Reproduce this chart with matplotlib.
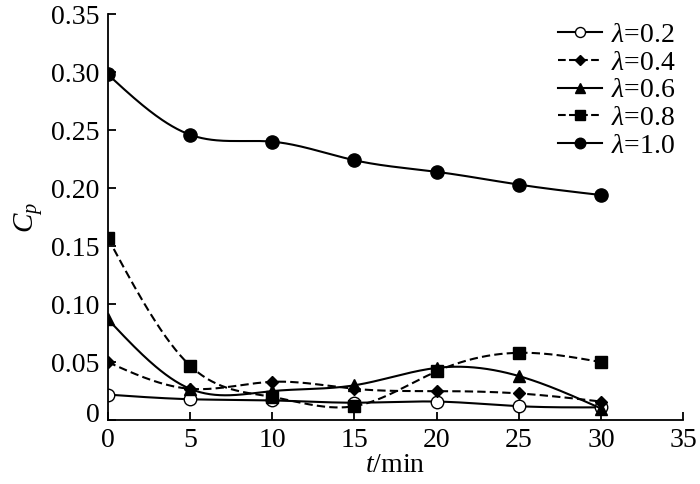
import numpy as np
import matplotlib
matplotlib.use('Agg')
import matplotlib.pyplot as plt
import matplotlib.transforms as mtransforms

plt.rcParams['font.family'] = ['Liberation Serif', 'DejaVu Serif']
plt.rcParams['mathtext.fontset'] = 'custom'
plt.rcParams['mathtext.it'] = 'Liberation Serif:italic'
plt.rcParams['mathtext.rm'] = 'Liberation Serif'

t = [0, 5, 10, 15, 20, 25, 30]
cp_02 = [0.022, 0.018, 0.017, 0.015, 0.016, 0.012, 0.011]
cp_04 = [0.050, 0.027, 0.033, 0.027, 0.025, 0.023, 0.016]
cp_06 = [0.087, 0.027, 0.025, 0.030, 0.045, 0.038, 0.010]
cp_08 = [0.157, 0.047, 0.020, 0.012, 0.042, 0.058, 0.050]
cp_10 = [0.298, 0.246, 0.240, 0.224, 0.214, 0.203, 0.194]
labels = ['0.2', '0.4', '0.6', '0.8', '1.0']


# natural cubic spline, only used to draw the smooth line between points
def spline(x, y, n=300):
    x = np.asarray(x, float)
    y = np.asarray(y, float)
    k = len(x)
    h = np.diff(x)
    A = np.zeros((k, k))
    b = np.zeros(k)
    A[0, 0] = A[-1, -1] = 1
    for i in range(1, k - 1):
        A[i, i-1] = h[i-1]
        A[i, i] = 2 * (h[i-1] + h[i])
        A[i, i+1] = h[i]
        b[i] = 6 * ((y[i+1]-y[i])/h[i] - (y[i]-y[i-1])/h[i-1])
    M = np.linalg.solve(A, b)
    xs = np.linspace(x[0], x[-1], n)
    idx = np.clip(np.searchsorted(x, xs) - 1, 0, k - 2)
    x0, x1 = x[idx], x[idx+1]
    hh = x1 - x0
    ys = (M[idx]*(x1-xs)**3/(6*hh) + M[idx+1]*(xs-x0)**3/(6*hh)
          + (y[idx]/hh - M[idx]*hh/6)*(x1-xs)
          + (y[idx+1]/hh - M[idx+1]*hh/6)*(xs-x0))
    return xs, ys


fig = plt.figure(figsize=(7, 4.84), dpi=100)
ax = fig.add_axes([0.154, 0.132, 0.822, 0.839])

series = [cp_02, cp_04, cp_06, cp_08, cp_10]
styles = [('o', '-', 'white'), ('D', '--', 'black'), ('^', '-', 'black'),
          ('s', '--', 'black'), ('o', '-', 'black')]
sizes = [9, 6.5, 8.5, 9, 9.5]
for vals, (m, ls, fc), ms, lab in zip(series, styles, sizes, labels):
    xs, ys = spline(t, vals)
    ax.plot(xs, ys, color='black', ls=ls, lw=1.5, dashes=(4, 2) if ls == '--' else (None, None))
    ax.plot(t, vals, ls='none', marker=m, ms=ms, mfc=fc, mec='black', mew=1.0)
    ax.plot([], [], color='black', ls=ls, lw=1.5, marker=m, ms=ms * 0.8, mfc=fc,
            mec='black', label=r'$\lambda$=' + lab)

ax.set_xlim(0, 35)
ax.set_ylim(0, 0.35)
ax.set_xticks(range(0, 36, 5))
ax.set_yticks(np.arange(0, 0.351, 0.05))
ax.set_yticklabels(['0', '0.05', '0.10', '0.15', '0.20', '0.25', '0.30', '0.35'])
ax.spines['top'].set_visible(False)
ax.spines['right'].set_visible(False)
ax.spines['left'].set_linewidth(1.3)
ax.spines['bottom'].set_linewidth(1.3)
ax.tick_params(direction='in', length=6, width=1.3, labelsize=20)
ax.tick_params(axis='x', pad=6)
ax.tick_params(axis='y', pad=6)
ax.set_xlabel(r'$t$/min', fontsize=20, labelpad=0)
ax.set_ylabel(r'$C_p$', fontsize=21, labelpad=4)
for lbl in ax.get_xticklabels() + ax.get_yticklabels():
    lbl.set_clip_on(False)
# lift the y "0" a little off the corner, as in the original
y0 = ax.get_yticklabels()[0]
y0.set_transform(y0.get_transform() + mtransforms.ScaledTranslation(0, 8 / 100, fig.dpi_scale_trans))

ax.legend(loc='upper right', bbox_to_anchor=(1.015, 1.02), frameon=False,
          fontsize=20, handlelength=1.6, handletextpad=0.3, labelspacing=0.08,
          borderaxespad=0.2)

fig.savefig('out.png', dpi=100)
